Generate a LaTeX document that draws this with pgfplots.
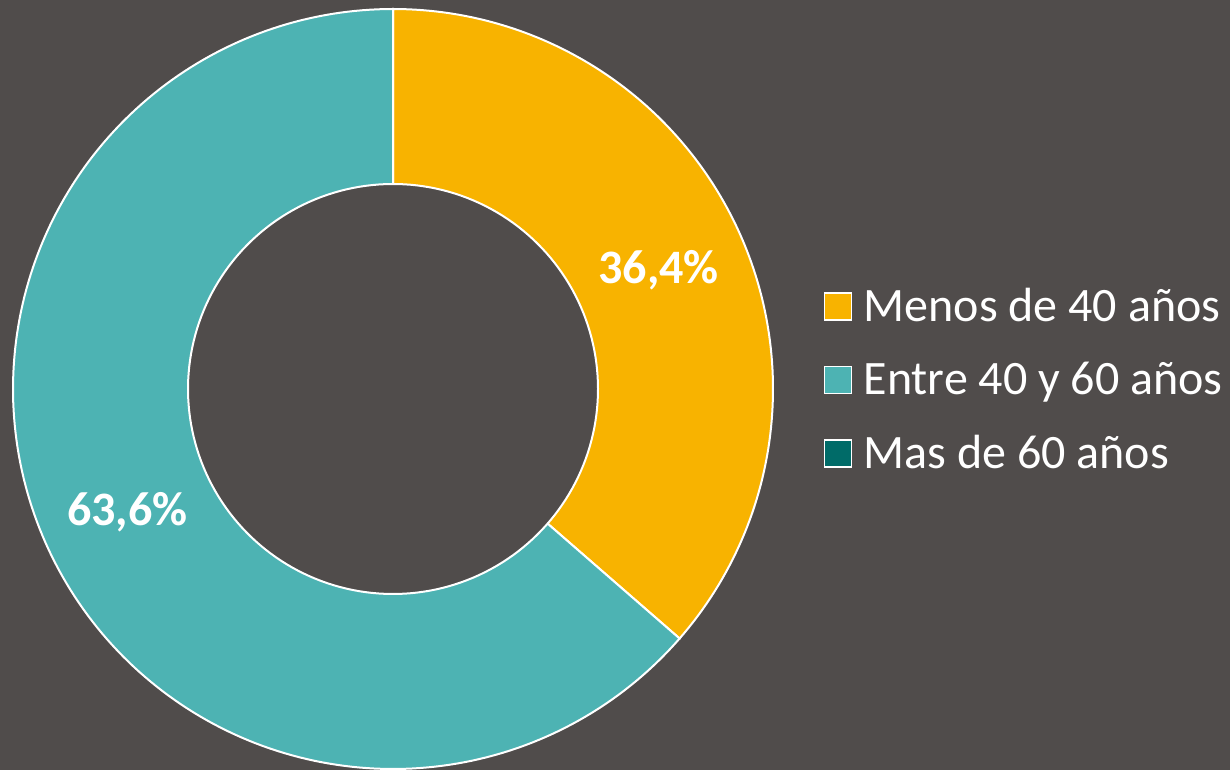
\documentclass[border=0pt]{standalone}
\usepackage{fontspec}
\setmainfont{Carlito}
\usepackage{pgfplots}
\pgfplotsset{compat=1.18}

\definecolor{bg}{HTML}{504C4B}
\definecolor{menos}{HTML}{F8B300}
\definecolor{entre}{HTML}{4DB3B3}
\definecolor{mas}{HTML}{006B68}

% shares in percent
\def\pMenos{36.4}
\def\pEntre{63.6}
\def\pMas{0}

\begin{document}
\begin{tikzpicture}
\fill[bg] (0,0) rectangle (615pt,385pt);
\pgfmathsetmacro{\aA}{90}
\pgfmathsetmacro{\aB}{90-3.6*\pMenos}
\pgfmathsetmacro{\aC}{\aB-3.6*\pEntre}
\pgfmathsetmacro{\mA}{(\aA+\aB)/2}
\pgfmathsetmacro{\mB}{(\aB+\aC)/2}
\begin{axis}[
    hide axis,
    scale only axis,
    width=615pt, height=385pt,
    xmin=0, xmax=1230, ymin=0, ymax=770,
    clip=false,
    legend style={at={(axis cs:823,486)}, anchor=north west,
        draw=none, fill=none, text=white,
        font=\fontsize{24}{29}\selectfont,
        row sep=14.8pt, inner sep=0pt},
    legend cell align=left,
    legend image code/.code={
        \draw[#1, draw=white, line width=0.8pt] (0pt,-6.8pt) rectangle (13.6pt,6.8pt);
        \path (0pt,0pt) (17.1pt,0pt);},
]
\addplot[fill=menos, draw=white, line width=1pt, domain=\aB:\aA, samples=120]
    ({393+380*cos(x)},{381+380*sin(x)}) -- (axis cs:393,381) -- cycle;
\addlegendentry{Menos de 40 años}
\addplot[fill=entre, draw=white, line width=1pt, domain=\aC:\aB, samples=200]
    ({393+380*cos(x)},{381+380*sin(x)}) -- (axis cs:393,381) -- cycle;
\addlegendentry{Entre 40 y 60 años}
\addlegendimage{fill=mas}
\addlegendentry{Mas de 60 años}
\addplot[fill=bg, draw=white, line width=1pt, domain=0:360, samples=200, forget plot]
    ({393+205*cos(x)},{381+205*sin(x)}) -- cycle;
\node[text=white, font=\bfseries\fontsize{24}{29}\selectfont]
    at (axis cs:{393+292*cos(\mA)},{379+292*sin(\mA)}) {36,4\%};
\node[text=white, font=\bfseries\fontsize{24}{29}\selectfont]
    at (axis cs:{393+292*cos(\mB)},{379+292*sin(\mB)}) {63,6\%};
\end{axis}
\end{tikzpicture}
\end{document}
